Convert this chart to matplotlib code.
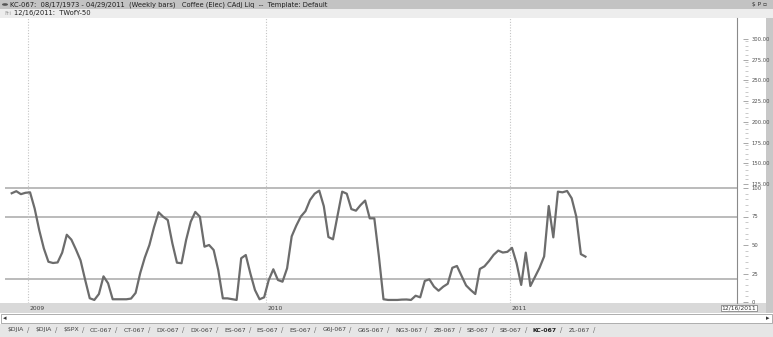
import matplotlib
matplotlib.use("Agg")
import matplotlib.pyplot as plt
from matplotlib.patches import Rectangle, Circle
from matplotlib.transforms import blended_transform_factory

# weekly TWofY-50 values, one per bar (Dec 2008 .. Apr 2011)
twofy = [95.4, 97.2, 94.6, 95.8, 96.2, 82, 63, 47, 35.3, 34.2,
         34.7, 43.3, 59, 54.7, 46, 36.5, 19.5, 3.3, 1.8, 7,
         22.5, 16.4, 2.4, 2.4, 2.4, 2.4, 3, 8, 25.4, 39,
         50, 65.5, 78.7, 74.8, 71.9, 51.5, 34.5, 34, 54.4, 70.4,
         79, 74.8, 48.5, 50, 45.6, 28, 3.2, 3.2, 2.5, 1.8,
         38.4, 41.2, 25, 10.5, 2.4, 4.1, 19.3, 28.7, 19.3, 17.8,
         29.6, 57.6, 67, 75, 79.7, 89.5, 95, 97.7, 84, 57,
         55, 76, 96.8, 95, 81.5, 80.1, 85, 89, 73.4, 73.4,
         40, 2.4, 1.8, 1.8, 1.8, 2.1, 2.2, 1.8, 5.5, 4.1,
         18.5, 19.9, 13.5, 9.9, 13.4, 16, 30, 31.6, 23, 14.5,
         10.5, 7, 29, 31.3, 36, 41.4, 45.1, 43.4, 44, 47.5,
         34, 15, 43.3, 14, 22, 30, 40, 84.2, 56.7, 96.8,
         96.2, 97.4, 91, 75, 42, 39.8]

ref_levels = [100, 75, 20]
years = ['2009', '2010', '2011']
year_bars = [3.55, 55.4, 108.6]          # bar index of first bar in each year
lower_labels = [0, 25, 50, 75, 100]
upper_labels = [300, 275, 250, 225, 200, 175, 150, 125]
tabs = ['$DJIA', '$DJIA', '$SPX', 'CC-067', 'CT-067', 'DX-067', 'DX-067',
        'ES-067', 'ES-067', 'ES-067', 'G6J-067', 'G6S-067', 'NG3-067',
        'ZB-067', 'SB-067', 'SB-067', 'KC-067', 'ZL-067']
active_tab = 'KC-067'
title = 'KC-067:  08/17/1973 - 04/29/2011  (Weekly bars)   Coffee (Elec) CAdj Liq  --  Template: Default'
cursor_info = '12/16/2011:  TWofY-50'
last_date = '12/16/2011'

W, H = 773, 337
plt.rcParams['font.family'] = ['DejaVu Sans']


def fx(px):
    return px / W


def fy(py):
    return 1 - py / H


fig = plt.figure(figsize=(W / 100, H / 100), dpi=100)
fig.patch.set_facecolor('white')


def band(x0, y0, x1, y1, fc, ec='none', lw=0.6):
    fig.patches.append(Rectangle((fx(x0), fy(y1)), fx(x1 - x0), (y1 - y0) / H,
                                 transform=fig.transFigure, facecolor=fc,
                                 edgecolor=ec, lw=lw, zorder=-1))


# window header rows
band(0, 0, W, 9, '#c3c3c3')
band(0, 9, W, 18, '#ededed')
fig.patches.append(Circle((fx(5), fy(4.5)), 3 / W, transform=fig.transFigure,
                          facecolor='#555555', edgecolor='none'))
fig.text(fx(10), fy(4.7), title, fontsize=4.9, color='#202020', va='center')
fig.text(fx(4), fy(13.5), 'Fri', fontsize=4.2, color='#999999', va='center')
fig.text(fx(14), fy(13.5), cursor_info, fontsize=4.9, color='#202020', va='center')
fig.text(fx(752), fy(4.7), '$ P ▫', fontsize=4.2, color='#303030', va='center')

# right strip, date strip, scroll bar, tab row
band(766, 18, W, 313, '#c8c8c8')
band(0, 303, 766, 313, '#d9d9d9')
band(1, 314, W - 1, 323, 'white', ec='#a0a0a0')
band(0, 324, W, H, '#e6e6e6')
fig.text(fx(3), fy(318.5), '◂', fontsize=5, color='#333333', va='center')
fig.text(fx(766), fy(318.5), '▸', fontsize=5, color='#333333', va='center')

# main chart
ax = fig.add_axes([fx(5), fy(303), fx(737) - fx(5), (303 - 18) / H])
ax.set_facecolor('white')
bars = list(range(len(twofy)))
x0_px, step_px = 11.7, 4.59
ax.set_xlim((5 - x0_px) / step_px, (737 - x0_px) / step_px)
px_per_unit = 1.14
ax.set_ylim(-1 / px_per_unit, (302 - 18) / px_per_unit)

for lvl in ref_levels:
    ax.axhline(lvl, color='#b5b5b5', lw=1.3, zorder=1)
for xb in year_bars:
    ax.axvline(xb, color='#c4c4c4', lw=0.8, ls=(0, (1, 1.5)), zorder=1)
ax.plot(bars, twofy, color='#6c6c6c', lw=1.6, zorder=3, solid_joinstyle='round')

for s in ['top', 'left', 'bottom']:
    ax.spines[s].set_visible(False)
ax.spines['right'].set_color('#8a8a8a')
ax.spines['right'].set_linewidth(0.8)
ax.set_xticks([])

# right scale: lower 0-100 plus the upper price scale squeezed above it
upper_pos = [103.5 + (u - 125) * 0.727 for u in upper_labels]
major_pos = lower_labels + upper_pos
ax.yaxis.tick_right()
ax.set_yticks(major_pos)
ax.set_yticklabels([str(v) for v in lower_labels] + ['%.2f' % u for u in upper_labels])
ax.tick_params(axis='y', labelsize=3.8, labelcolor='#505050', length=0, pad=10.5)

# detached tick dashes to the right of the axis line
axw = fx(737) - fx(5)
tk = blended_transform_factory(ax.transAxes, ax.transData)
dash0 = 1 + (6 / W) / axw
ax.hlines(major_pos, dash0, dash0 + (5 / W) / axw, transform=tk, color='#9a9a9a',
          lw=0.6, clip_on=False)
minor_pos = [v + 5 * k for v in range(0, 100, 25) for k in range(1, 5)]
minor_pos += [p + 4.1 * k for p in upper_pos[1:] for k in range(1, 5)]
ax.hlines(minor_pos, dash0 + (2 / W) / axw, dash0 + (5 / W) / axw, transform=tk,
          color='#b5b5b5', lw=0.5, clip_on=False)

# year labels on the date strip
tr = blended_transform_factory(ax.transData, fig.transFigure)
for yr, xb in zip(years, year_bars):
    ax.text(xb + 0.3, fy(308), yr, transform=tr, fontsize=4.3, color='#404040',
            va='center', clip_on=False)
fig.text(fx(739), fy(308), last_date, fontsize=4.3, color='#303030', va='center',
         ha='center', bbox=dict(boxstyle='square,pad=0.15', fc='white', ec='#707070', lw=0.5))

# worksheet tabs, each sized to its text
renderer = fig.canvas.get_renderer()
tab_x = 8
for name in tabs:
    bold = name == active_tab
    t = fig.text(fx(tab_x), fy(330), name.replace('$', r'\$'), fontsize=4.4,
                 color='#202020' if bold else '#404040', va='center',
                 fontweight='bold' if bold else 'normal')
    wpx = t.get_window_extent(renderer).width
    fig.text(fx(tab_x + wpx + 3), fy(330), '/', fontsize=5, color='#707070', va='center')
    tab_x += wpx + 11.2

fig.savefig('out.png', dpi=100)
